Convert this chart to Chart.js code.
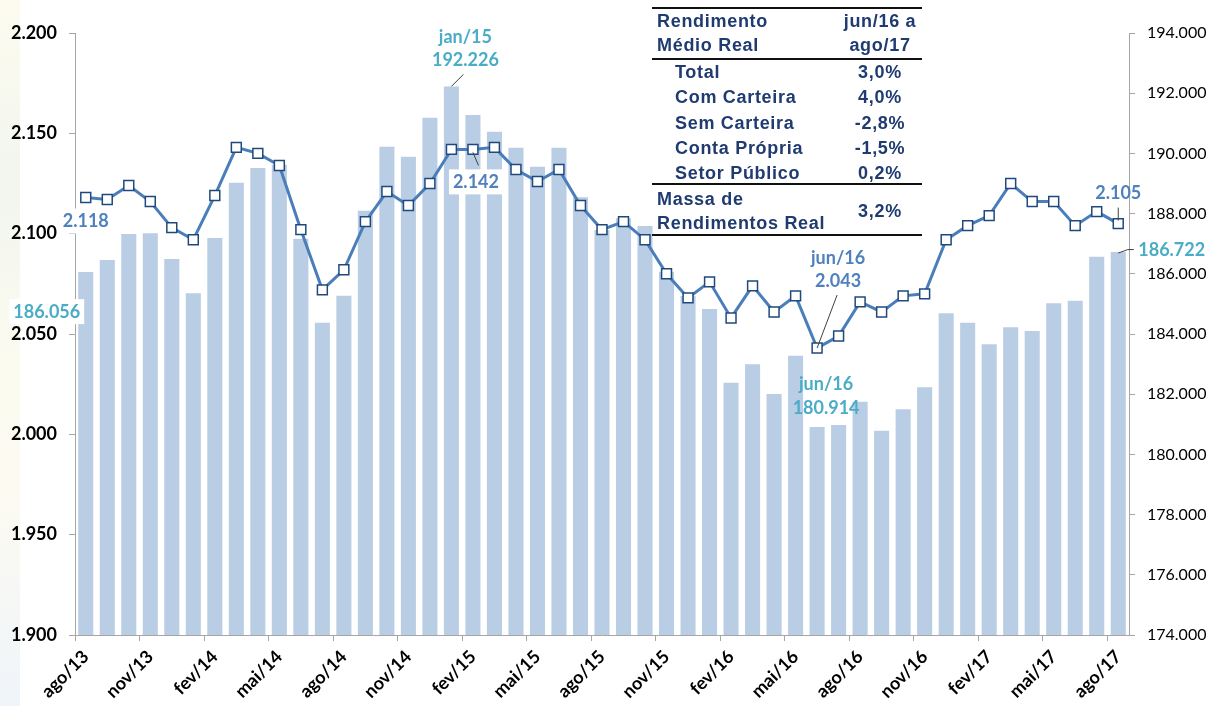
<!DOCTYPE html>
<html>
<head>
<meta charset="utf-8">
<script src="https://cdn.jsdelivr.net/npm/chart.js@4.4.0/dist/chart.umd.min.js"></script>
<style>
  body { margin: 0; background: #fff; }
  #wrap { position: relative; width: 1210px; height: 706px; overflow: hidden; }
  #strip { position: absolute; left: 0; top: 0; width: 20px; height: 706px;
    background: linear-gradient(to bottom, #fdfbef 0%, #f2f6ee 25%, #fcfbf0 55%, #fcfaf1 70%, #f0f5fa 100%); }
  canvas { position: absolute; left: 0; top: 0; }
  .tb { position: absolute; font-family: "Liberation Sans", Arial, sans-serif; font-weight: bold;
    font-size: 18px; letter-spacing: 0.7px; color: #1f3b70; white-space: nowrap; transform: translateY(-50%); }
  .tc { transform: translate(-50%, -50%); text-align: center; }
  .rule { position: absolute; left: 652px; width: 270px; height: 2px; background: #111; }
</style>
</head>
<body>
<div id="wrap">
  <div id="strip"></div>
  <canvas id="myChart" width="1210" height="706"></canvas>
  <div id="tabela"></div>
</div>
<script>
const meses = ["ago/13","set/13","out/13","nov/13","dez/13","jan/14","fev/14","mar/14","abr/14","mai/14","jun/14","jul/14",
  "ago/14","set/14","out/14","nov/14","dez/14","jan/15","fev/15","mar/15","abr/15","mai/15","jun/15","jul/15",
  "ago/15","set/15","out/15","nov/15","dez/15","jan/16","fev/16","mar/16","abr/16","mai/16","jun/16","jul/16",
  "ago/16","set/16","out/16","nov/16","dez/16","jan/17","fev/17","mar/17","abr/17","mai/17","jun/17","jul/17","ago/17"];

// rendimento medio real (eixo esquerdo)
const renda = [2118, 2117, 2124, 2116, 2103, 2097, 2119, 2143, 2140, 2134, 2102, 2072,
  2082, 2106, 2121, 2114, 2125, 2142, 2142, 2143, 2132, 2126, 2132, 2114,
  2102, 2106, 2097, 2080, 2068, 2076, 2058, 2074, 2061, 2069, 2043, 2049,
  2066, 2061, 2069, 2070, 2097, 2104, 2109, 2125, 2116, 2116, 2104, 2111, 2105];

// massa de rendimentos real (eixo direito)
const massa = [186056, 186458, 187322, 187344, 186491, 185351, 187188, 189026, 189514, 189624, 187165, 184375,
  185272, 188096, 190221, 189890, 191186, 192226, 191274, 190720, 190189, 189558, 190189, 188540,
  187454, 187843, 187587, 186069, 185262, 184830, 182382, 182992, 182006, 183279, 180914, 180976,
  181751, 180788, 181497, 182228, 184686, 184375, 183656, 184221, 184099, 185018, 185106, 186568, 186722];

const tabLinhas = ["Total", "Com Carteira", "Sem Carteira", "Conta Própria", "Setor Público"];
const tabValores = ["3,0%", "4,0%", "-2,8%", "-1,5%", "0,2%"];
const tabMassa = "3,2%";

const AZUL = '#4f81bd';
const TEAL = '#4bacc6';

function fmt(v) {
  return String(Math.round(v)).replace(/\B(?=(\d{3})+(?!\d))/g, '.');
}

// notas sobre os pontos: deslocamentos relativos ao ponto/barra
const notas = [
  { i: 0, s: 'line', txt: [fmt(renda[0])], dx: 0, dy: [23], cor: AZUL, box: true },
  { i: 0, s: 'bar', txt: [fmt(massa[0])], dx: -39, dy: [39], cor: TEAL, box: true },
  { i: 17, s: 'bar', txt: ['jan/15', fmt(massa[17])], dx: 14, dy: [-50, -27], cor: TEAL, lead: [[0, 0], [12, -12]] },
  { i: 18, s: 'line', txt: [fmt(renda[18])], dx: 3, dy: [32], cor: AZUL, box: true, lead: [[0, 3], [5.5, 16]] },
  { i: 34, s: 'line', txt: ['jun/16', fmt(renda[34])], dx: 21, dy: [-91, -68], cor: AZUL, lead: [[0, 0], [20, -53]] },
  { i: 34, s: 'bar', txt: ['jun/16', fmt(massa[34])], dx: 9, dy: [-44, -20], cor: TEAL },
  { i: 48, s: 'line', txt: [fmt(renda[48])], dx: 0, dy: [-31], cor: AZUL, lead: [[0, -3], [0, -16]] },
  { i: 48, s: 'bar', txt: [fmt(massa[48])], dx: 20, dy: [-2.5], cor: TEAL, left: true, lead: [[0, 1], [9.5, -2.5], [15.5, -2.5]] }
];

const notasPlugin = {
  id: 'notas',
  afterDatasetsDraw(chart) {
    const ctx = chart.ctx;
    const sx = chart.scales.x, sy = chart.scales.y, sy1 = chart.scales.y1;
    ctx.save();
    ctx.font = 'bold 18px Lato';
    ctx.textBaseline = 'middle';
    notas.forEach(n => {
      const px = sx.getPixelForValue(n.i);
      const py = n.s === 'line' ? sy.getPixelForValue(renda[n.i]) : sy1.getPixelForValue(massa[n.i]);
      if (n.lead) {
        ctx.strokeStyle = '#404040';
        ctx.lineWidth = 1;
        ctx.beginPath();
        n.lead.forEach((p, k) => k === 0 ? ctx.moveTo(px + p[0], py + p[1]) : ctx.lineTo(px + p[0], py + p[1]));
        ctx.stroke();
      }
      n.txt.forEach((t, k) => {
        const w = ctx.measureText(t).width;
        const cx = px + n.dx;
        const cy = py + n.dy[k];
        const x0 = n.left ? cx : cx - w / 2;
        if (n.box) {
          ctx.fillStyle = '#fff';
          ctx.fillRect(x0 - 4, cy - 12, w + 8, 25);
        }
        ctx.fillStyle = n.cor;
        ctx.textAlign = 'left';
        ctx.fillText(t, x0, cy + 1);
      });
    });
    ctx.restore();
  }
};

const cinza = '#a6a6a6';
const ctx = document.getElementById('myChart').getContext('2d');
new Chart(ctx, {
  data: {
    labels: meses,
    datasets: [
      {
        type: 'line',
        data: renda,
        yAxisID: 'y',
        borderColor: '#4a7ebb',
        borderWidth: 3,
        pointStyle: 'rect',
        pointRadius: 7,
        pointBackgroundColor: '#fff',
        pointBorderColor: '#1f497d',
        pointBorderWidth: 1.5,
        tension: 0,
        order: 1
      },
      {
        type: 'bar',
        data: massa,
        yAxisID: 'y1',
        backgroundColor: '#b9cde5',
        barPercentage: 0.7,
        categoryPercentage: 1.0,
        order: 2
      }
    ]
  },
  options: {
    responsive: false,
    animation: false,
    devicePixelRatio: 1,
    layout: { padding: { top: 33, left: 0, right: 0, bottom: 0 } },
    plugins: { legend: { display: false }, tooltip: { enabled: false } },
    scales: {
      x: {
        type: 'category',
        offset: true,
        grid: {
          offset: true,
          drawOnChartArea: false,
          tickLength: 6,
          tickColor: c => (c.index % 3 === 0 ? cinza : 'rgba(0,0,0,0)')
        },
        border: { color: cinza },
        ticks: {
          autoSkip: false,
          maxRotation: 45,
          minRotation: 45,
          padding: 5,
          color: '#000',
          font: { family: 'Lato', weight: 'bold', size: 18 },
          callback: (v, i) => (i % 3 === 0 ? meses[i] : '')
        },
        afterFit: s => { s.height = 71; }
      },
      y: {
        position: 'left',
        min: 1900,
        max: 2200,
        grid: { drawOnChartArea: false, tickLength: 6, tickColor: cinza },
        border: { color: cinza },
        ticks: {
          stepSize: 50,
          padding: 12,
          color: '#000',
          font: { family: 'Lato', weight: 'bold', size: 18 },
          callback: v => fmt(v)
        },
        afterFit: s => { s.width = 75; }
      },
      y1: {
        position: 'right',
        min: 174000,
        max: 194000,
        grid: { drawOnChartArea: false, tickLength: 6, tickColor: cinza },
        border: { color: cinza },
        ticks: {
          stepSize: 2000,
          padding: 12,
          color: '#000',
          font: { family: 'Lato', size: 16 },
          callback: v => fmt(v)
        },
        afterFit: s => { s.width = 81; }
      }
    }
  },
  plugins: [notasPlugin]
});

// tabela de variacoes
function tabela() {
  const el = document.getElementById('tabela');
  let h = '';
  [7, 58, 183, 234].forEach(t => { h += '<div class="rule" style="top:' + t + 'px"></div>'; });
  h += '<div class="tb" style="left:657px;top:21px">Rendimento</div>';
  h += '<div class="tb" style="left:657px;top:45px">Médio Real</div>';
  h += '<div class="tb tc" style="left:880px;top:21px">jun/16 a</div>';
  h += '<div class="tb tc" style="left:880px;top:45px">ago/17</div>';
  tabLinhas.forEach((nome, k) => {
    const y = 72 + k * 25.3;
    h += '<div class="tb" style="left:675px;top:' + y + 'px">' + nome + '</div>';
    h += '<div class="tb tc" style="left:880px;top:' + y + 'px">' + tabValores[k] + '</div>';
  });
  h += '<div class="tb" style="left:657px;top:199px">Massa de</div>';
  h += '<div class="tb" style="left:657px;top:223px">Rendimentos Real</div>';
  h += '<div class="tb tc" style="left:880px;top:211px">' + tabMassa + '</div>';
  el.innerHTML = h;
}
tabela();
</script>
</body>
</html>
